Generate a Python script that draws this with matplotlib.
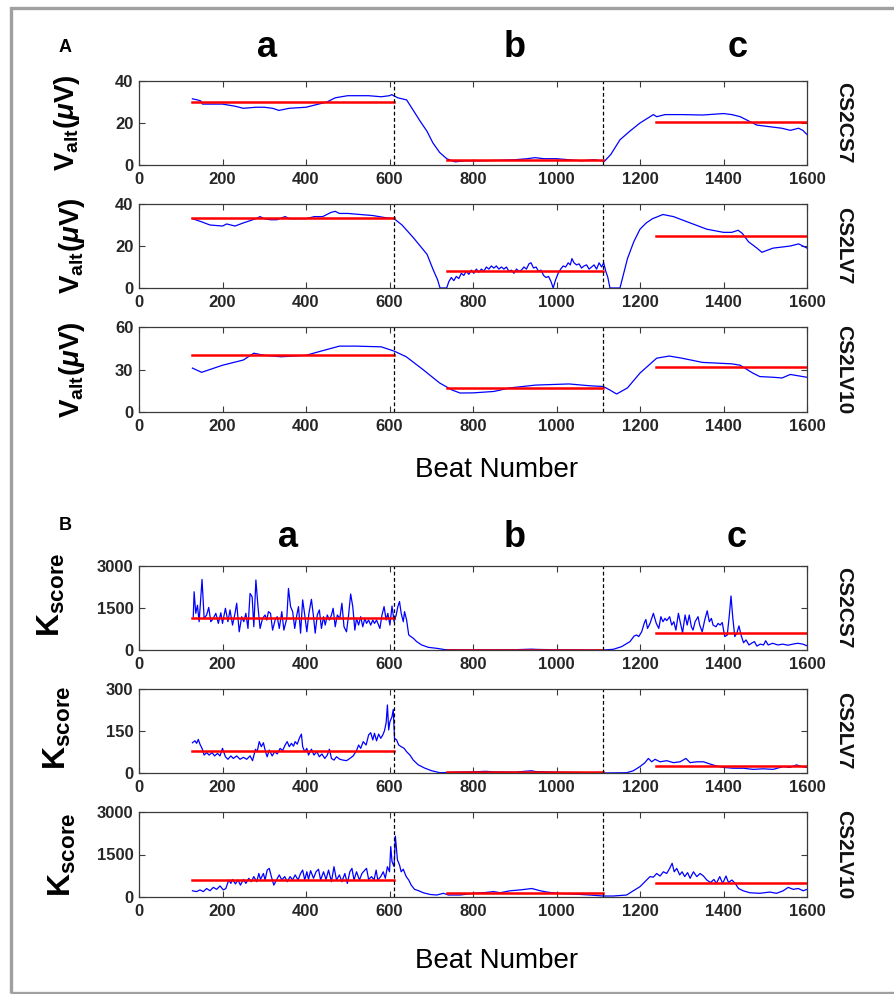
import numpy as np
import matplotlib.pyplot as plt
from matplotlib.patches import Rectangle

plt.rcParams['font.family'] = ['Liberation Sans', 'DejaVu Sans']
plt.rcParams['font.weight'] = 'bold'
plt.rcParams['mathtext.fontset'] = 'custom'
plt.rcParams['mathtext.rm'] = 'Liberation Sans'
plt.rcParams['mathtext.bf'] = 'Liberation Sans:bold'
plt.rcParams['mathtext.it'] = 'Liberation Sans:italic'

# phase limits (beat number)
seg_start = [128, 738, 1238]
seg_end = [611, 1112, 1600]
phase_lines = [611, 1112]
phase_names = ['a', 'b', 'c']
leads = ['CS2CS7', 'CS2LV7', 'CS2LV10']

# ---- panel A: alternans voltage (uV)
valt_cs2cs7_x = [128, 140, 148, 152, 170, 200, 230, 250, 280, 300, 320, 335, 360, 400, 430, 450,
                 470, 500, 550, 580, 600, 605, 620, 641, 657, 673, 690, 704, 720, 737, 757, 780,
                 820, 860, 900, 930, 948, 970, 1000, 1030, 1060, 1090, 1115, 1130, 1152, 1175,
                 1200, 1232, 1240, 1260, 1300, 1350, 1400, 1420, 1440, 1460, 1480, 1500, 1520,
                 1540, 1560, 1580, 1590, 1600]
valt_cs2cs7_y = [31.5, 31, 30.5, 29, 29, 29, 28, 27, 27.5, 27.5, 27, 26, 27, 27.5, 29, 30,
                 32, 33, 33, 32.5, 33, 33.5, 32, 31, 26, 21, 16, 10.5, 6, 3, 1.5, 2,
                 2, 2.2, 2.5, 3, 3.5, 3, 3, 2.5, 2, 2.5, 1.8, 5, 12, 16,
                 20, 24, 23, 24, 24, 23.8, 24.5, 24, 23, 21, 19, 18.5, 18,
                 17.5, 16.5, 17.5, 16.5, 14.5]

valt_cs2lv7_x = [128, 150, 170, 200, 210, 230, 250, 280, 290, 300, 315, 330, 350, 360, 380, 400,
                 420, 440, 460, 470, 480, 500, 530, 560, 590, 611, 630, 657, 690, 705, 715, 721,
                 737, 742, 748, 754, 760, 766, 772, 778, 784, 790, 796, 802, 808, 814, 820, 826,
                 832, 838, 844, 850, 856, 862, 868, 874, 880, 886, 892, 898, 904, 910, 916, 922,
                 928, 934, 939, 945, 951, 957, 963, 969, 975, 981, 987, 992, 998, 1004, 1010,
                 1016, 1022, 1028, 1033, 1037, 1042, 1048, 1054, 1060, 1066, 1072, 1078, 1084,
                 1090, 1096, 1102, 1108, 1113, 1118, 1123, 1128, 1152, 1170, 1185, 1200, 1215,
                 1230, 1255, 1280, 1320, 1360, 1400, 1420, 1435, 1445, 1460, 1480, 1492, 1505,
                 1519, 1540, 1560, 1580, 1600]
valt_cs2lv7_y = [33, 31.5, 30, 29.5, 30.5, 29.5, 31, 33, 34, 33, 32.5, 32.5, 34, 33, 33, 33,
                 34, 34, 36, 36.5, 35.5, 35.5, 35, 34.5, 33.5, 33, 30, 24, 16, 8.5, 4, 0,
                 0, 3, 5, 3.5, 5.5, 4.5, 7, 6, 8, 6.5, 8.5, 7, 9, 7.5, 9, 8,
                 10, 9, 10.5, 9.5, 10.5, 9, 10, 9, 10, 8, 8.5, 7, 9, 8, 8.5, 10,
                 9, 11.5, 12, 9.5, 10, 8, 8.5, 6, 5, 5.5, 3, 0, 4, 7, 9,
                 10.5, 10, 12, 11, 14, 12, 11, 11.5, 9.5, 10.5, 11, 9, 10,
                 11, 9, 12, 10, 12, 8, 5, 0, 0, 14, 22, 28, 31,
                 33, 35, 34, 31, 28, 26.5, 26.5, 27.5, 26, 22, 19, 17, 18,
                 19, 19.5, 20, 21, 19]

valt_cs2lv10_x = [128, 150, 200, 250, 275, 300, 340, 400, 430, 480, 520, 580, 611, 640, 680, 720,
                  750, 769, 800, 850, 888, 950, 1000, 1030, 1080, 1112, 1128, 1144, 1170, 1200,
                  1240, 1270, 1300, 1350, 1420, 1440, 1470, 1487, 1520, 1540, 1560, 1580, 1600]
valt_cs2lv10_y = [31, 28, 33, 36.7, 41.5, 40, 39, 40, 42.5, 46.5, 46.5, 46, 43, 39, 30, 20.5,
                  15.5, 13.4, 13.5, 14.5, 17, 19, 19.5, 19.8, 18.5, 18, 15.5, 12.7, 17, 27.5,
                  38, 39.5, 38, 35, 34, 33, 27.5, 25, 24.5, 24, 26.5, 25.5, 24.5]

valt_mean_cs2cs7 = [30, 2.4, 20.5]
valt_mean_cs2lv7 = [33.3, 8, 24.8]
valt_mean_cs2lv10 = [40.2, 17, 31.8]

# ---- panel B: K score
k_cs2cs7_x = [130, 132, 136, 140, 144, 151, 156, 162, 167, 172, 178, 184, 190, 196, 200, 207, 213,
              218, 224, 230, 234, 240, 246, 251, 256, 261, 266, 271, 275, 280, 285, 290, 296,
              302, 306, 310, 315, 320, 326, 331, 336, 342, 347, 354, 358, 363, 368, 373, 378,
              382, 387, 392, 397, 402, 407, 413, 418, 422, 427, 432, 437, 442, 446, 451, 456,
              461, 465, 470, 475, 481, 486, 491, 497, 502, 507, 512, 517, 521, 526, 531, 536,
              541, 545, 550, 555, 560, 564, 569, 577, 582, 587, 592, 596, 601, 606, 611, 616,
              620, 624, 628, 633, 636, 641, 646, 651, 657, 665, 677, 693, 713, 733, 760, 800,
              850, 900, 940, 955, 1000, 1050, 1112, 1136, 1156, 1176, 1186, 1192, 1197, 1204,
              1210, 1214, 1218, 1224, 1232, 1239, 1245, 1250, 1255, 1260, 1264, 1271, 1276,
              1281, 1286, 1292, 1297, 1302, 1308, 1313, 1318, 1323, 1327, 1332, 1339, 1343,
              1349, 1355, 1361, 1366, 1371, 1375, 1382, 1387, 1392, 1397, 1403, 1409, 1414,
              1418, 1422, 1427, 1432, 1437, 1442, 1448, 1454, 1461, 1467, 1474, 1480, 1488,
              1496, 1501, 1507, 1518, 1530, 1542, 1554, 1566, 1578, 1590, 1600]
k_cs2cs7_y = [1190, 2080, 1310, 1600, 1010, 2520, 1130, 1250, 1520, 1010, 1130, 1310, 950, 1330,
              950, 1490, 1010, 1430, 890, 1310, 1670, 650, 1190, 1010, 1310, 770, 2020, 1900,
              830, 2500, 1550, 770, 1130, 1250, 1070, 1370, 1310, 710, 1070, 1190, 770, 1370,
              710, 1130, 2200, 1550, 1370, 770, 1250, 1550, 600, 1790, 1250, 650, 1310, 1810,
              1190, 600, 1250, 1430, 770, 1190, 890, 1250, 1070, 1250, 1490, 830, 1250, 1130,
              1670, 830, 650, 1250, 2000, 1550, 710, 1130, 890, 1190, 830, 1130, 950, 1070,
              890, 1070, 950, 1070, 770, 1250, 1550, 1070, 1310, 890, 1570, 1010, 1250, 1550,
              1730, 1310, 1010, 1370, 1070, 540, 480, 420, 300, 180, 95, 60, 12, 8, 5,
              8, 10, 30, 20, 8, 5, 0, 25, 120, 300, 500, 535, 480, 650,
              950, 1090, 770, 950, 1310, 950, 770, 1190, 1010, 1130, 1050, 1190, 890,
              1010, 710, 1310, 950, 620, 1250, 890, 1250, 830, 710, 1010, 1190, 890,
              650, 1070, 1400, 1010, 1130, 890, 830, 950, 890, 980, 480, 535, 1250,
              1930, 1190, 480, 600, 860, 535, 260, 360, 180, 240, 300, 140, 210,
              180, 330, 180, 240, 180, 210, 170, 210, 240, 210, 150]

k_cs2lv7_x = [128, 134, 138, 142, 146, 151, 156, 162, 168, 175, 181, 188, 194, 200, 207, 213, 220,
              226, 234, 242, 250, 258, 266, 272, 279, 283, 288, 293, 298, 303, 307, 312, 319,
              325, 331, 338, 344, 350, 355, 360, 365, 370, 374, 379, 384, 389, 392, 397, 402,
              406, 413, 419, 426, 432, 438, 445, 451, 456, 461, 467, 473, 481, 489, 497, 505,
              513, 521, 526, 531, 537, 544, 550, 555, 560, 564, 569, 574, 579, 584, 588, 592,
              595, 598, 601, 606, 609, 612, 617, 622, 628, 635, 641, 649, 657, 669, 685, 701,
              721, 760, 800, 830, 850, 900, 940, 950, 1000, 1050, 1112, 1168, 1184, 1200, 1212,
              1220, 1228, 1236, 1248, 1264, 1280, 1296, 1310, 1320, 1336, 1352, 1368, 1383,
              1399, 1423, 1447, 1471, 1495, 1519, 1543, 1559, 1575, 1587, 1600]
k_cs2lv7_y = [108, 115, 106, 120, 103, 88, 64, 73, 64, 73, 61, 70, 61, 88, 58, 49, 61,
              52, 61, 49, 56, 49, 61, 44, 85, 76, 112, 94, 108, 76, 58, 82, 61,
              76, 68, 88, 80, 100, 112, 94, 106, 96, 112, 103, 124, 139, 94, 76, 88,
              64, 85, 64, 76, 58, 68, 52, 64, 85, 52, 46, 58, 49, 46, 44, 52,
              61, 80, 100, 88, 112, 100, 136, 144, 118, 142, 115, 139, 124, 136, 151, 180,
              243, 154, 183, 201, 227, 124, 118, 100, 94, 88, 76, 64, 46, 29, 17, 8,
              1, 3, 4, 6, 4, 3, 8, 5, 3, 2, 0, 1, 8, 23, 37,
              52, 40, 49, 40, 44, 37, 40, 52, 37, 40, 40, 32, 25,
              20, 17, 17, 13, 15, 13, 23, 20, 29, 23, 20]

k_cs2lv10_x = [128, 138, 146, 154, 162, 170, 178, 186, 194, 202, 208, 215, 220, 224, 231, 237, 243,
               250, 256, 263, 269, 275, 282, 287, 291, 298, 302, 307, 312, 317, 323, 330, 336,
               342, 349, 355, 362, 368, 374, 381, 387, 392, 397, 402, 406, 411, 418, 424, 430,
               435, 442, 448, 454, 461, 467, 473, 480, 486, 493, 499, 505, 510, 515, 521, 528,
               534, 541, 545, 550, 557, 563, 568, 572, 579, 585, 590, 595, 600, 603, 606, 611,
               614, 619, 624, 628, 633, 640, 646, 652, 660, 670, 681, 697, 713, 729, 741, 769,
               801, 825, 849, 865, 889, 913, 941, 961, 977, 1000, 1040, 1080, 1112, 1136, 1168,
               1184, 1200, 1212, 1224, 1232, 1240, 1248, 1256, 1264, 1271, 1277, 1282, 1288,
               1295, 1301, 1307, 1314, 1320, 1328, 1336, 1344, 1352, 1360, 1369, 1377, 1383,
               1391, 1398, 1406, 1412, 1420, 1428, 1436, 1447, 1463, 1487, 1511, 1527, 1543,
               1555, 1567, 1579, 1591, 1600]
k_cs2lv10_y = [220, 190, 250, 190, 300, 220, 340, 270, 390, 250, 300, 600, 480, 620, 460, 600, 420,
               620, 480, 660, 540, 720, 540, 830, 620, 830, 600, 950, 1010, 720, 420, 620, 780,
               600, 720, 540, 720, 600, 780, 600, 830, 950, 600, 890, 620, 930, 660, 890, 980,
               600, 890, 620, 950, 540, 1070, 600, 780, 540, 830, 480, 890, 1010, 600, 890, 600,
               830, 950, 1010, 620, 720, 600, 950, 600, 720, 890, 660, 1070, 890, 1780, 1250, 1070,
               2150, 1310, 1130, 890, 980, 720, 600, 420, 270, 220, 150, 90, 70, 130, 70, 70,
               130, 150, 190, 150, 220, 250, 300, 220, 175, 130, 105, 70, 35, 35, 70,
               220, 365, 540, 720, 700, 830, 740, 890, 830, 1010, 1190, 890, 1010,
               780, 890, 720, 860, 660, 890, 720, 830, 740, 600, 510, 620, 480,
               720, 480, 740, 510, 600, 480, 300, 220, 150, 130, 175, 130, 220,
               340, 270, 300, 220, 270]

k_mean_cs2cs7 = [1150, 10, 600]
k_mean_cs2lv7 = [80, 5, 25]
k_mean_cs2lv10 = [600, 150, 480]

panel_a = [(valt_cs2cs7_x, valt_cs2cs7_y, valt_mean_cs2cs7, [0, 20, 40]),
           (valt_cs2lv7_x, valt_cs2lv7_y, valt_mean_cs2lv7, [0, 20, 40]),
           (valt_cs2lv10_x, valt_cs2lv10_y, valt_mean_cs2lv10, [0, 30, 60])]
panel_b = [(k_cs2cs7_x, k_cs2cs7_y, k_mean_cs2cs7, [0, 1500, 3000]),
           (k_cs2lv7_x, k_cs2lv7_y, k_mean_cs2lv7, [0, 150, 300]),
           (k_cs2lv10_x, k_cs2lv10_y, k_mean_cs2lv10, [0, 1500, 3000])]

W, H = 894, 994
fig = plt.figure(figsize=(W / 100, H / 100), dpi=100)


def fx(px):
    return px / W


def fy(py):
    return 1 - py / H


# axes boxes (top, bottom) in pixels
rows_a = [(81, 165), (204, 288), (327, 412)]
rows_b = [(566, 650), (689, 773), (812, 897)]
left, right = 139, 807
spine_col = '#3a3a3a'


def draw_row(top, bottom, x, y, means, yticks, lead):
    ax = fig.add_axes([fx(left), fy(bottom), fx(right - left), (bottom - top) / H])
    ax.plot(x, y, color='blue', lw=0.9)
    for s, e, m in zip(seg_start, seg_end, means):
        ax.plot([s, e], [m, m], color='red', lw=1.8)
    for b in phase_lines:
        ax.axvline(b, color='black', lw=0.9, ls=(0, (3, 2)))
    ax.set_xlim(0, 1600)
    ax.set_ylim(yticks[0], yticks[-1])
    ax.set_xticks(range(0, 1601, 200))
    ax.set_yticks(yticks)
    ax.tick_params(direction='in', top=True, right=True, length=4, width=0.8,
                   color=spine_col, labelsize=12, labelcolor='#262626')
    ax.tick_params(axis='x', pad=5)
    ax.tick_params(axis='y', pad=4)
    for sp in ax.spines.values():
        sp.set_color(spine_col)
        sp.set_linewidth(0.9)
    fig.text(fx(844), fy((top + bottom) / 2), lead, rotation=270, ha='center', va='center',
             fontsize=15, fontweight='bold', color='#111111')
    return ax


for (top, bottom), (x, y, m, yt), lead, lx in zip(rows_a, panel_a, leads, [67, 72, 72]):
    draw_row(top, bottom, x, y, m, yt, lead)
    fig.text(fx(lx), fy((top + bottom) / 2), r'$\mathbf{V_{alt}}(\mu\mathbf{V})$', rotation=90,
             ha='center', va='center', fontsize=20)

for (top, bottom), (x, y, m, yt), lead, lx, ly in zip(rows_b, panel_b, leads, [51, 57, 62],
                                                       [595, 728, 855]):
    draw_row(top, bottom, x, y, m, yt, lead)
    fig.text(fx(lx), fy(ly), r'$\mathbf{K_{score}}$', rotation=90,
             ha='center', va='center', fontsize=23)

# phase letters and panel labels
for name, px in zip(phase_names, [267, 515, 738]):
    fig.text(fx(px), fy(57), name, ha='center', va='baseline', fontsize=26, fontweight='bold')
for name, px in zip(phase_names, [288, 515, 737]):
    fig.text(fx(px), fy(547), name, ha='center', va='baseline', fontsize=26, fontweight='bold')
fig.text(fx(65), fy(47), 'A', ha='center', va='center', fontsize=13, fontweight='bold')
fig.text(fx(65), fy(526), 'B', ha='center', va='center', fontsize=13, fontweight='bold')

fig.text(fx(497), fy(477), 'Beat Number', ha='center', va='baseline', fontsize=20,
         fontweight='normal')
fig.text(fx(497), fy(968), 'Beat Number', ha='center', va='baseline', fontsize=20,
         fontweight='normal')

# grey frame round the figure
fig.patches.append(Rectangle((fx(11), fy(993)), fx(900 - 11), (993 - 8) / H,
                             transform=fig.transFigure, fill=False, ec='#a0a0a0', lw=2.4))

fig.savefig('out.png', dpi=100)
